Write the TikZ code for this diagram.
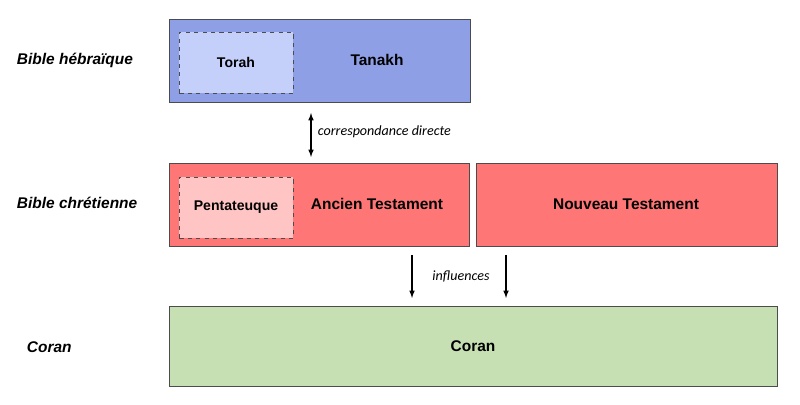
\documentclass[tikz,border=0pt]{standalone}
\usepackage{fontspec}
\setmainfont{Liberation Sans}
\newfontfamily\notefont{Carlito}
\usetikzlibrary{positioning,calc}
\definecolor{hebblue}{HTML}{8F9FE5}
\definecolor{torahblue}{HTML}{C5D0FA}
\definecolor{chrred}{HTML}{FF7676}
\definecolor{pentred}{HTML}{FFC4C4}
\definecolor{corgreen}{HTML}{C6E0B4}
\begin{document}
\begin{tikzpicture}[x=0.025cm,y=-0.025cm,
    box/.style={draw=black!70,anchor=north west,font=\bfseries\fontsize{11}{13}\selectfont},
    inner/.style={draw=black!70,dashed,anchor=north west,font=\bfseries\fontsize{10}{12}\selectfont},
    side/.style={anchor=west,font=\bfseries\itshape\fontsize{11}{13}\selectfont},
    note/.style={font=\notefont\itshape\fontsize{10}{12}\selectfont},
    link/.style={-latex,thick}]

        \useasboundingbox (0,0) rectangle (800,405);

        % group boxes
        \node[box,fill=hebblue,minimum width=301\pgflinewidth*0+7.525cm,minimum height=2.075cm] (Tanakh) at (169,19) {};
        \node at (377,60) [font=\bfseries\fontsize{11}{13}\selectfont] {Tanakh};
        \node[inner,fill=torahblue,minimum width=2.85cm,minimum height=1.525cm] (Torah) at (179,32) {};
        \node at (236,62) [font=\bfseries\fontsize{10}{12}\selectfont] {Torah};

        \node[box,fill=chrred,minimum width=7.5cm,minimum height=2.075cm] (AT) at (169,163) {};
        \node at (377,204) [font=\bfseries\fontsize{11}{13}\selectfont] {Ancien Testament};
        \node[inner,fill=pentred,minimum width=2.85cm,minimum height=1.525cm] (Penta) at (179,177) {};
        \node at (236,207) [font=\bfseries\fontsize{10}{12}\selectfont] {Pentateuque};

        \node[box,fill=chrred,minimum width=7.525cm,minimum height=2.075cm] (NT) at (476,163) {};
        \node at (626,204) [font=\bfseries\fontsize{11}{13}\selectfont] {Nouveau Testament};

        \node[box,fill=corgreen,minimum width=15.2cm,minimum height=2cm] (Coran) at (169,306) {};
        \node at (473,346) [font=\bfseries\fontsize{11}{13}\selectfont] {Coran};

        % side labels
        \node[side] (Lheb) at (12,60) {Bible hébraïque};
        \node[side] (Lchr) at (12,203) {Bible chrétienne};
        \node[side] (Lcor) at (22,347) {Coran};

        % connectors
        \coordinate (c1) at (311,113);
        \coordinate (c2) at (311,157);
        \draw[latex-latex,thick] (c1) -- (c2);
        \node[note,anchor=west] (corr) at (313,132) {correspondance directe};

        \coordinate (i1) at (412,255);
        \coordinate (i2) at (412,298);
        \coordinate (i3) at (506,255);
        \coordinate (i4) at (506,298);
        \draw[link] (i1) -- (i2);
        \draw[link] (i3) -- (i4);
        \node[note] (infl) at (461,276) {influences};

\end{tikzpicture}
\end{document}
